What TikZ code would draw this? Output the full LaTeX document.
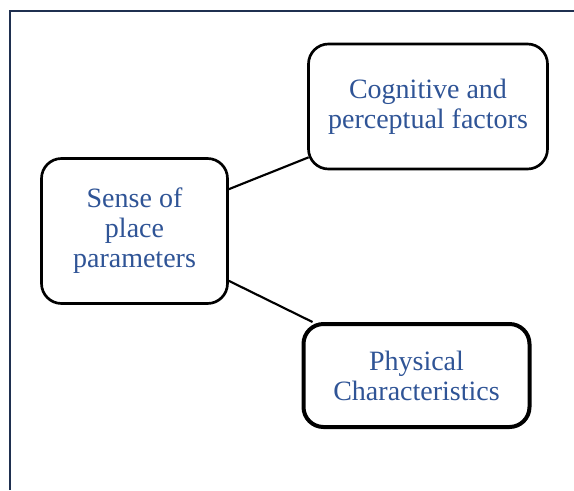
\documentclass[tikz,border=0pt]{standalone}
\usepackage{fontspec}
\setmainfont{Liberation Serif}
\definecolor{txtblue}{RGB}{47,84,150}
\definecolor{framenavy}{RGB}{31,48,80}
\begin{document}
\begin{tikzpicture}[x=0.75pt,y=-0.75pt,
  box/.style={draw=black,line width=2pt,rounded corners=15pt,fill=white,
    align=center,text=txtblue,font=\fontsize{21pt}{22.5pt}\selectfont,inner sep=0pt},
  link/.style={draw=black,line width=1.6pt}]
\useasboundingbox (0,0) rectangle (574,490);
\draw[framenavy,line width=2pt] (10,490) -- (10,11) -- (574,11);
\node[box,minimum width=139.5pt,minimum height=108.75pt] (L) at (134.5,231) {Sense of\\place\\parameters};
\node[box,minimum width=179.25pt,minimum height=93.75pt] (T) at (428,106.5) {Cognitive and\\perceptual factors};
\node[box,line width=3pt,minimum width=169.5pt,minimum height=77.25pt] (B) at (416.5,375.5) {Physical\\Characteristics};
\draw[link] ([yshift=-24pt]L.north east) -- ([xshift=1.1pt,yshift=9.75pt]T.south west);
\draw[link] ([yshift=18pt]L.south east) -- ([xshift=8.25pt]B.north west);
\end{tikzpicture}
\end{document}
